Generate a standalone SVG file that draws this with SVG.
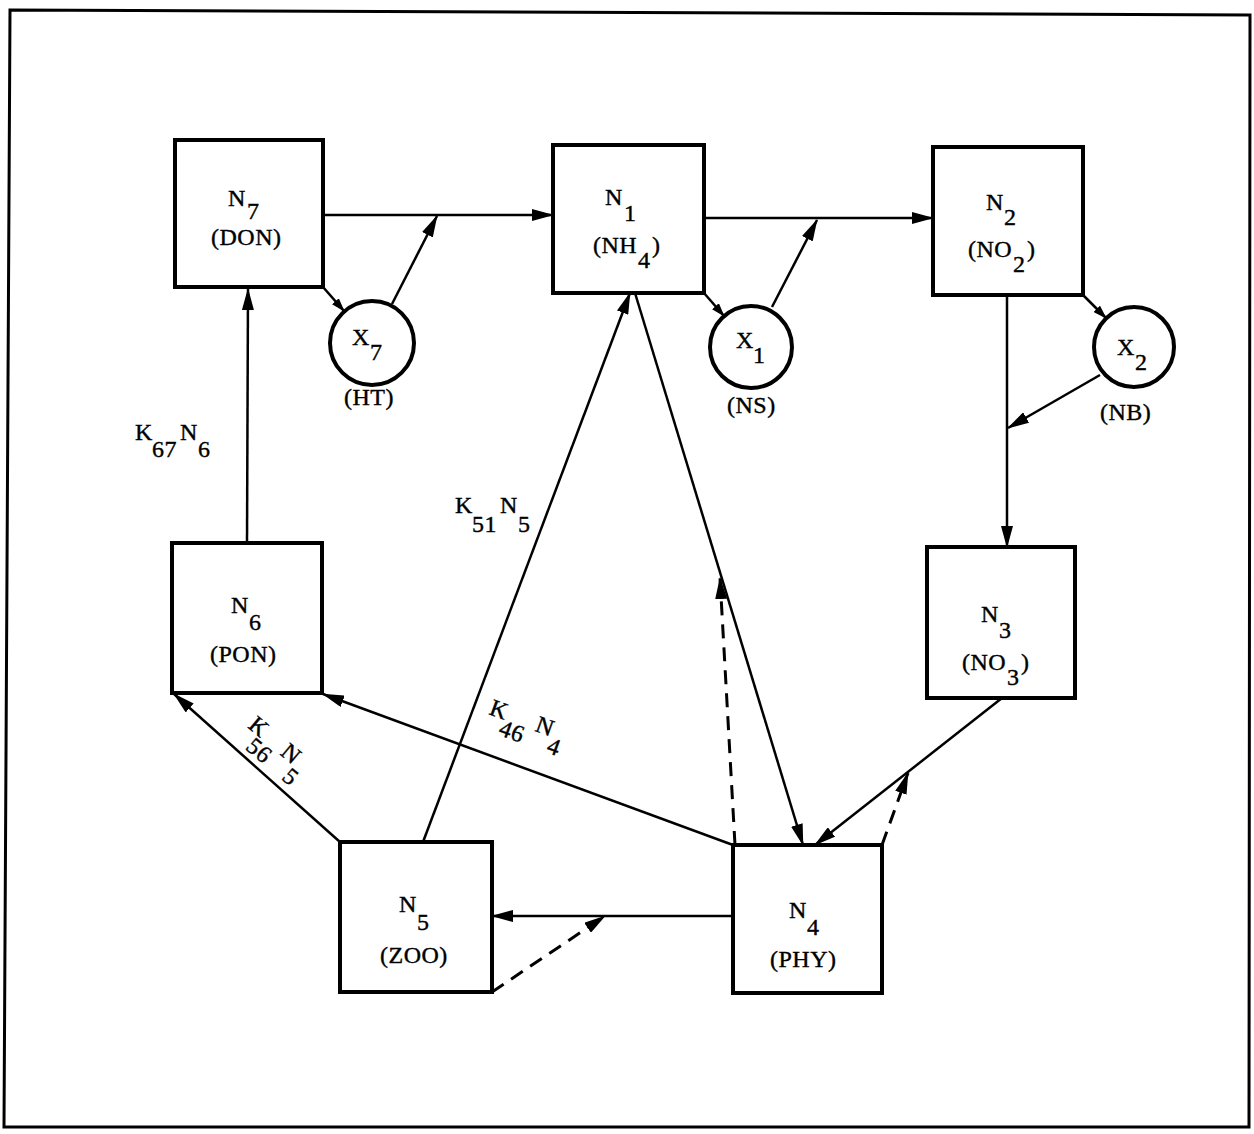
<svg xmlns="http://www.w3.org/2000/svg" width="1254" height="1134" viewBox="0 0 1254 1134">
<style>
.box{fill:#fff;stroke:#000;stroke-width:4}
.cir{fill:#fff;stroke:#000;stroke-width:4}
.c{fill:none;stroke:#000;stroke-width:2.5}
.d{fill:none;stroke:#000;stroke-width:3;stroke-dasharray:14 9}
text{font-family:"Liberation Serif","DejaVu Serif",serif;font-size:24px;letter-spacing:0.5px;fill:#000;stroke:#000;stroke-width:0.4}
</style>
<defs>
<marker id="ah" viewBox="0 0 22 12" refX="21" refY="6" markerWidth="22" markerHeight="12" markerUnits="userSpaceOnUse" orient="auto"><path d="M0,0 L22,6 L0,12 z" fill="#000"/></marker>
<marker id="as" viewBox="0 0 14 9" refX="13" refY="4.5" markerWidth="14" markerHeight="9" markerUnits="userSpaceOnUse" orient="auto"><path d="M0,0 L14,4.5 L0,9 z" fill="#000"/></marker>
</defs>
<rect width="1254" height="1134" fill="#fff"/>
<path d="M10,10 L1250,15 L1249,1127 L4,1127 Z" fill="none" stroke="#000" stroke-width="3"/>

<g id="connectors">
<line class="c" x1="323" y1="215" x2="553" y2="215" marker-end="url(#ah)"/>
<line class="c" x1="704" y1="218" x2="933" y2="218" marker-end="url(#ah)"/>
<line class="c" x1="323" y1="287" x2="344" y2="311" marker-end="url(#as)"/>
<line class="c" x1="392" y1="304" x2="437" y2="216" marker-end="url(#ah)"/>
<line class="c" x1="704" y1="293" x2="724" y2="316" marker-end="url(#as)"/>
<line class="c" x1="772" y1="307" x2="817" y2="220" marker-end="url(#ah)"/>
<line class="c" x1="1083" y1="295" x2="1106" y2="318" marker-end="url(#as)"/>
<line class="c" x1="1100" y1="375" x2="1008" y2="428" marker-end="url(#ah)"/>
<line class="c" x1="1007" y1="295" x2="1007" y2="547" marker-end="url(#ah)"/>
<line class="c" x1="1002" y1="698" x2="815" y2="845" marker-end="url(#ah)"/>
<line class="c" x1="635" y1="293" x2="803" y2="845" marker-end="url(#ah)"/>
<line class="c" x1="423" y1="842" x2="630" y2="293" marker-end="url(#ah)"/>
<line class="c" x1="733" y1="845" x2="323" y2="694" marker-end="url(#ah)"/>
<line class="c" x1="340" y1="842" x2="174" y2="694" marker-end="url(#ah)"/>
<line class="c" x1="733" y1="916" x2="492" y2="916" marker-end="url(#ah)"/>
<line class="c" x1="247" y1="543" x2="248" y2="289" marker-end="url(#ah)"/>
<line class="d" x1="492" y1="992" x2="605" y2="916" marker-end="url(#ah)"/>
<line class="d" x1="735" y1="845" x2="720" y2="578" marker-end="url(#ah)"/>
<line class="d" x1="882" y1="845" x2="908" y2="773" marker-end="url(#ah)"/>
</g>

<g id="N7">
<rect class="box" x="175" y="140" width="148" height="147"/>
<text><tspan x="228" y="206">N</tspan><tspan x="247" y="219">7</tspan><tspan x="211" y="245">(DON)</tspan></text>
</g>
<g id="N1">
<rect class="box" x="553" y="145" width="151" height="148"/>
<text><tspan x="605" y="205">N</tspan><tspan x="624" y="221">1</tspan><tspan x="593" y="253">(NH</tspan><tspan x="638" y="268">4</tspan><tspan x="652" y="253">)</tspan></text>
</g>
<g id="N2">
<rect class="box" x="933" y="147" width="150" height="148"/>
<text><tspan x="986" y="210">N</tspan><tspan x="1004" y="225">2</tspan><tspan x="968" y="257">(NO</tspan><tspan x="1013" y="272">2</tspan><tspan x="1027" y="257">)</tspan></text>
</g>
<g id="N3">
<rect class="box" x="927" y="547" width="148" height="151"/>
<text><tspan x="981" y="622">N</tspan><tspan x="999" y="638">3</tspan><tspan x="962" y="670">(NO</tspan><tspan x="1007" y="685">3</tspan><tspan x="1021" y="670">)</tspan></text>
</g>
<g id="N4">
<rect class="box" x="733" y="845" width="149" height="148"/>
<text><tspan x="789" y="918">N</tspan><tspan x="807" y="935">4</tspan><tspan x="770" y="967">(PHY)</tspan></text>
</g>
<g id="N5">
<rect class="box" x="340" y="842" width="152" height="150"/>
<text><tspan x="399" y="912">N</tspan><tspan x="417" y="930">5</tspan><tspan x="380" y="963">(ZOO)</tspan></text>
</g>
<g id="N6">
<rect class="box" x="172" y="543" width="150" height="150"/>
<text><tspan x="231" y="613">N</tspan><tspan x="249" y="630">6</tspan><tspan x="210" y="662">(PON)</tspan></text>
</g>
<g id="X7">
<circle class="cir" cx="372" cy="343" r="42"/>
<text><tspan x="352" y="345">X</tspan><tspan x="370" y="360">7</tspan><tspan x="344" y="405">(HT)</tspan></text>
</g>
<g id="X1">
<circle class="cir" cx="751" cy="347" r="41"/>
<text><tspan x="736" y="348">X</tspan><tspan x="753" y="363">1</tspan><tspan x="727" y="413">(NS)</tspan></text>
</g>
<g id="X2">
<circle class="cir" cx="1134" cy="347" r="40"/>
<text><tspan x="1117" y="355">X</tspan><tspan x="1135" y="370">2</tspan><tspan x="1100" y="420">(NB)</tspan></text>
</g>

<g id="labels">
<text><tspan x="135" y="440">K</tspan><tspan x="152" y="457">67</tspan><tspan x="180" y="440">N</tspan><tspan x="198" y="457">6</tspan></text>
<text><tspan x="455" y="513">K</tspan><tspan x="472" y="532">51</tspan><tspan x="500" y="513">N</tspan><tspan x="518" y="532">5</tspan></text>
<text transform="translate(488,714) rotate(20)"><tspan x="0" y="0">K</tspan><tspan x="16" y="16">46</tspan><tspan x="49" y="0">N</tspan><tspan x="67" y="16">4</tspan></text>
<text transform="translate(247,727) rotate(40)"><tspan x="0" y="0">K</tspan><tspan x="12" y="18">56</tspan><tspan x="42" y="0">N</tspan><tspan x="59" y="18">5</tspan></text>
</g>
</svg>
